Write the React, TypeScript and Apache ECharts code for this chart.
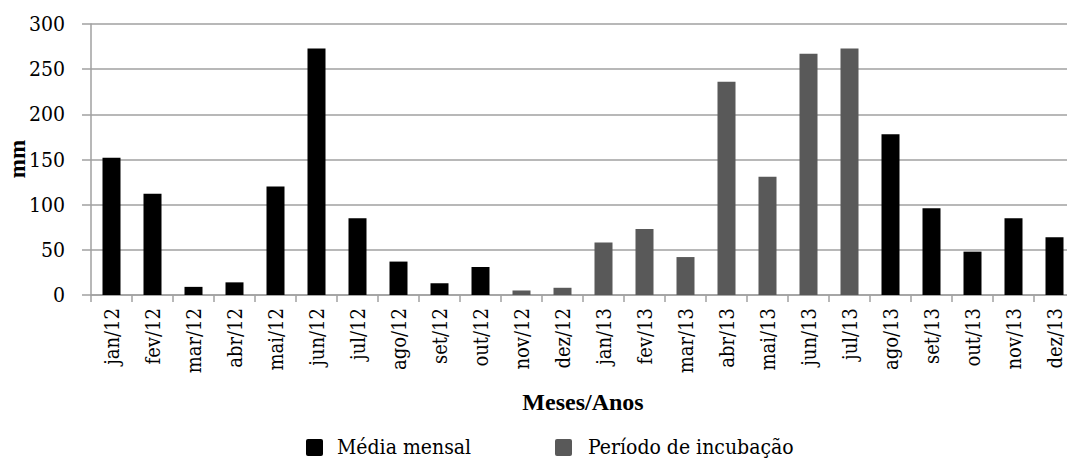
import React, { useEffect, useRef } from "react";
import * as echarts from "echarts";

const categories = [
  "jan/12", "fev/12", "mar/12", "abr/12", "mai/12", "jun/12", "jul/12", "ago/12",
  "set/12", "out/12", "nov/12", "dez/12", "jan/13", "fev/13", "mar/13", "abr/13",
  "mai/13", "jun/13", "jul/13", "ago/13", "set/13", "out/13", "nov/13", "dez/13",
];

const mediaMensal: (number | string)[] = [
  152, 112, 9, 14, 120, 273, 85, 37, 13, 31, "-", "-",
  "-", "-", "-", "-", "-", "-", "-", 178, 96, 48, 85, 64,
];

const periodoIncubacao: (number | string)[] = [
  "-", "-", "-", "-", "-", "-", "-", "-", "-", "-", 5, 8,
  58, 73, 42, 236, 131, 267, 273, "-", "-", "-", "-", "-",
];

const seriesNames = ["Média mensal", "Período de incubação"];
const seriesColors = ["#000000", "#595959"];

const yTicks = [0, 50, 100, 150, 200, 250, 300];

const GRID_COLOR = "#a0a0a0";
const SERIF = "DejaVu Serif Condensed";

export default function App() {
  const ref = useRef<HTMLDivElement>(null);

  useEffect(() => {
    if (!ref.current) return;
    const chart = echarts.init(ref.current, null, { renderer: "svg" });
    const legendItems = [
      { box: 306, text: 337 },
      { box: 555, text: 588 },
    ];
    const legendGraphics: any[] = [];
    legendItems.forEach((it, i) => {
      legendGraphics.push({
        type: "rect",
        shape: { x: it.box, y: 439, width: 17, height: 17, r: 2 },
        style: { fill: seriesColors[i] },
      });
      legendGraphics.push({
        type: "text",
        x: it.text,
        y: 447,
        style: {
          text: seriesNames[i],
          fontFamily: SERIF,
          fontSize: 21,
          fill: "#000",
          align: "left",
          verticalAlign: "middle",
        },
      });
    });
    chart.setOption({
      animation: false,
      backgroundColor: "#ffffff",
      grid: { left: 91, top: 24, right: 5, bottom: 164, containLabel: false },
      xAxis: {
        type: "category",
        data: categories,
        axisLine: { lineStyle: { color: GRID_COLOR, width: 1.5 } },
        axisTick: { show: true, length: 7, lineStyle: { color: GRID_COLOR, width: 1.5 } },
        axisLabel: {
          rotate: 90,
          margin: 13,
          fontFamily: SERIF,
          fontSize: 20,
          fontWeight: "normal",
          color: "#000",
          interval: 0,
        },
      },
      yAxis: {
        type: "value",
        min: yTicks[0],
        max: yTicks[yTicks.length - 1],
        interval: 50,
        axisLine: { show: true, lineStyle: { color: GRID_COLOR, width: 1.5 } },
        axisTick: { show: true, length: 9, lineStyle: { color: GRID_COLOR, width: 1.5 } },
        splitLine: { show: true, lineStyle: { color: GRID_COLOR, width: 1.5 } },
        axisLabel: { margin: 26, fontFamily: SERIF, fontSize: 21, fontWeight: "normal", color: "#000" },
      },
      graphic: [
        {
          type: "text",
          x: 583,
          y: 402,
          style: {
            text: "Meses/Anos",
            fontFamily: "Liberation Serif",
            fontSize: 24,
            fontWeight: "bold",
            fill: "#000",
            align: "center",
            verticalAlign: "middle",
          },
        },
        {
          type: "text",
          x: 17,
          y: 159,
          rotation: Math.PI / 2,
          style: {
            text: "mm",
            fontFamily: "Liberation Serif",
            fontSize: 23,
            fontWeight: "bold",
            fill: "#000",
            align: "center",
            verticalAlign: "middle",
          },
        },
        ...legendGraphics,
      ],
      series: [
        {
          name: seriesNames[0],
          type: "bar",
          data: mediaMensal,
          barWidth: 18,
          barGap: "-100%",
          itemStyle: { color: seriesColors[0] },
        },
        {
          name: seriesNames[1],
          type: "bar",
          data: periodoIncubacao,
          barWidth: 18,
          barGap: "-100%",
          itemStyle: { color: seriesColors[1] },
        },
      ],
    });
    return () => chart.dispose();
  }, []);

  return (
    <div style={{ position: "fixed", left: 0, top: 0, width: 1067, height: 459, overflow: "hidden", background: "#fff" }}>
      <div ref={ref} style={{ width: 1080, height: 459 }} />
    </div>
  );
}
